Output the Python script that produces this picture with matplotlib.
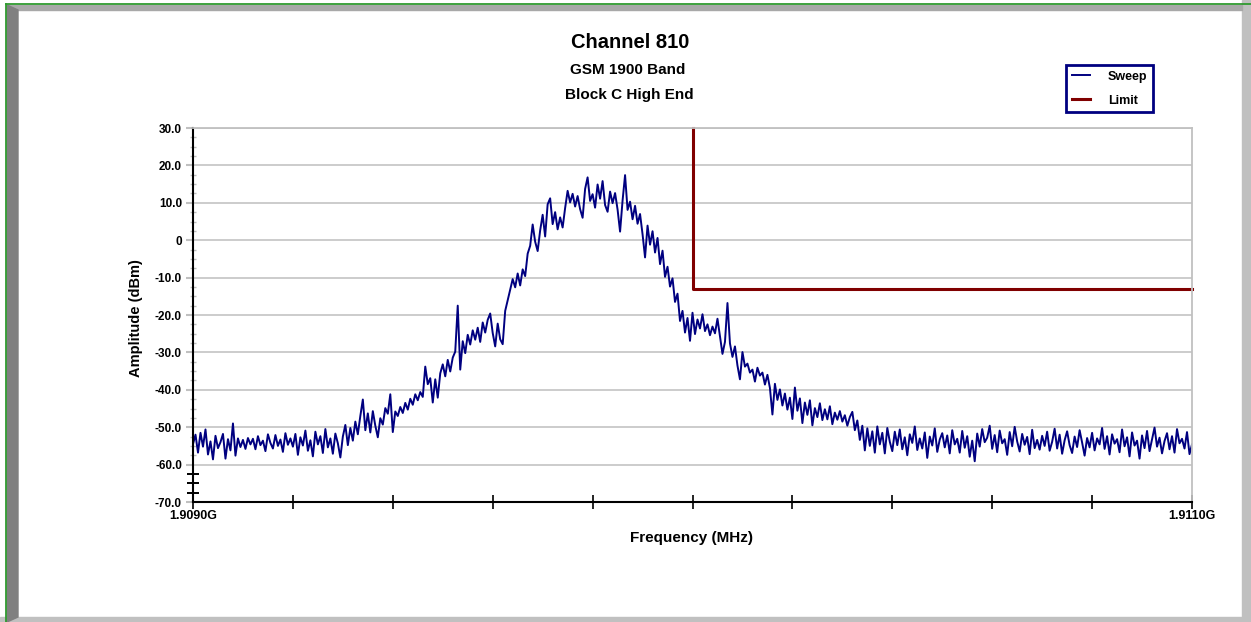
import numpy as np
import matplotlib
matplotlib.use("Agg")
import matplotlib.pyplot as plt
from matplotlib.patches import Rectangle, Polygon

plt.rcParams["font.family"] = ["Liberation Sans", "DejaVu Sans"]
plt.rcParams["font.weight"] = "bold"

# sweep: 401 points from 1909.0 to 1911.0 MHz, amplitude in dBm
floor_left = [
    -54.5, -52.0, -56.8, -51.5, -55.2, -50.6, -57.3, -53.8, -58.6, -52.3,
    -55.6, -54.0, -51.8, -58.4, -53.2, -56.2, -49.0, -57.6, -53.0, -55.3,
    -53.4, -55.8, -52.9, -54.6, -53.1, -55.9, -52.4, -54.8, -53.6, -56.4,
    -51.9, -54.2, -55.7, -52.1, -55.0, -53.3, -56.6, -51.6, -54.7, -53.0,
    -55.2, -51.8, -57.4, -52.7, -54.9, -50.9, -56.3, -53.5, -57.8, -51.2,
    -54.6, -52.4, -56.9, -50.5, -55.4, -53.0, -57.1, -51.7, -54.3, -58.1,
]
skirt_left = [
    -52.5, -49.4, -54.8, -50.2, -53.6, -48.5, -51.9, -47.0, -42.6, -50.8,
    -46.3, -51.4, -45.7, -49.6, -52.7, -47.6, -49.3, -44.9, -46.4, -41.2,
    -51.3, -45.8, -47.0, -44.6, -46.2, -43.5, -45.3, -42.4, -44.0, -41.2,
    -42.8, -40.6, -41.9, -33.8, -38.5, -36.9, -43.4, -37.2, -42.1, -35.6,
    -33.2, -36.4, -32.0, -35.1, -31.4, -29.8, -17.5, -34.6, -27.0, -30.2,
    -25.3, -27.9, -24.1, -26.6, -23.4, -27.2, -22.0, -24.7, -21.3, -19.6,
    -24.8, -28.4, -22.3, -26.5, -27.8, -18.9, -16.1, -13.2, -10.4, -12.6,
    -8.9, -12.1, -7.8, -9.6, -3.6, -1.5, 4.2, -0.4, -2.9, 2.6,
]
main_lobe = [
    6.8, 1.0, 9.6, 11.2, 4.3, 7.5, 2.9, 6.1, 3.4, 8.6,
    13.2, 10.1, 12.4, 9.0, 11.8, 8.3, 6.0, 13.7, 16.8, 10.5,
    12.3, 8.7, 14.9, 11.1, 15.8, 9.4, 7.6, 13.0, 9.9, 12.6,
    8.2, 2.3, 10.6, 17.4, 8.1, 10.3, 5.6, 9.2, 4.4, 7.0,
    1.6, -4.6, 3.9, -1.2, 2.4, -3.3, 0.6, -6.4, -2.8, -9.8,
    -7.1, -12.4, -10.2, -16.5, -14.3, -21.6, -18.9, -24.7, -20.8, -26.9,
]
skirt_right = [
    -19.4, -25.1, -21.2, -23.6, -19.8, -24.3, -22.5, -25.4, -23.1, -24.9,
    -21.0, -25.8, -30.4, -27.2, -16.8, -27.6, -31.2, -28.4, -33.5, -37.2,
    -29.9, -33.8, -33.0, -35.4, -34.6, -37.8, -34.1, -36.2, -35.4, -38.6,
    -36.0, -39.5, -46.6, -38.4, -42.7, -39.9, -44.2, -41.0, -45.3, -42.1,
    -47.8, -39.4, -45.6, -42.3, -48.9, -43.4, -46.7, -42.8, -49.5, -44.9,
    -47.3, -43.6, -48.1, -45.2, -47.9, -44.4, -49.2, -46.1, -48.0, -45.7,
    -48.5, -46.8, -49.6, -47.3, -45.9, -50.8, -48.2, -53.4, -49.6, -56.2,
    -50.3, -55.0, -51.1, -56.8, -49.8, -54.6, -51.5, -57.0, -50.2, -53.9,
]
floor_right = [
    -56.4, -51.2, -54.8, -50.6, -55.9, -52.7, -57.5, -51.9, -54.2, -49.8,
    -56.1, -53.0, -55.7, -51.4, -58.2, -52.5, -54.9, -50.3, -56.6, -53.3,
    -51.6, -55.4, -52.2, -57.0, -50.8, -54.6, -53.1, -56.8, -51.0, -55.5,
    -52.4, -57.9, -53.6, -59.1, -51.7, -55.2, -50.5, -54.0, -52.8, -49.6,
    -55.8, -52.1, -56.7, -50.9, -54.3, -53.2, -57.4, -51.3, -55.1, -49.9,
    -53.8, -56.5, -51.8, -54.7, -52.6, -57.2, -50.7, -55.6, -53.4, -56.0,
    -52.3, -55.0, -51.2, -56.3, -53.9, -50.4, -55.7, -52.0, -57.1, -53.5,
    -51.1, -54.8, -56.9, -52.5, -55.3, -50.8, -54.1, -57.6, -52.9, -55.4,
    -51.5, -56.2, -53.0, -54.6, -50.2, -55.8, -52.4, -57.3, -51.9, -54.4,
    -53.2, -56.7, -50.6, -55.1, -52.7, -57.8, -51.4, -54.9, -53.6, -58.4,
    -52.2, -55.6, -51.0, -56.4, -53.3, -50.1, -55.2, -52.8, -57.0, -53.7,
    -51.6, -55.9, -52.4, -56.8, -50.5, -54.3, -53.1, -55.7, -51.3, -57.2,
    -54.6,
]
sweep_level = floor_left + skirt_left + main_lobe + skirt_right + floor_right
sweep_freq = np.linspace(1909.0, 1911.0, len(sweep_level))

limit_freq = [1910.0, 1910.0, 1911.0]
limit_level = [30.0, -13.0, -13.0]

y_ticks = [-70, -60, -50, -40, -30, -20, -10, 0, 10, 20, 30]
y_labels = ["-70.0", "-60.0", "-50.0", "-40.0", "-30.0", "-20.0",
            "-10.0", "0", "10.0", "20.0", "30.0"]

W, H = 1251, 622
fig = plt.figure(figsize=(W / 100, H / 100), dpi=100)

# window frame
bg = fig.add_axes([0, 0, 1, 1], zorder=0)
bg.set_xlim(0, W)
bg.set_ylim(H, 0)
bg.axis("off")
bg.add_patch(Rectangle((1242, 0), 9, H, color="#c0c0c0"))
bg.add_patch(Rectangle((0, 617), W, 5, color="#c0c0c0"))
bg.add_patch(Polygon([(7, 5), (1242, 5), (1242, 10), (18, 10)], color="#a8a8a8"))
bg.add_patch(Polygon([(7, 5), (18, 10), (18, 617), (7, 622)], color="#808080"))
bg.plot([6, 6], [4, H], color="#2f9a2f", lw=1.3)
bg.plot([6, W], [4, 4], color="#2f9a2f", lw=1.3)

ax = fig.add_axes([193 / W, 1 - 502 / H, (1192 - 193) / W, (502 - 128) / H], zorder=1)
sweep, = ax.plot(sweep_freq, sweep_level, color="#000080", lw=1.4, label="Sweep")
limit, = ax.plot(limit_freq, limit_level, color="#800000", lw=2.2,
                 label="Limit", clip_on=False, solid_capstyle="projecting")

ax.set_xlim(1909.0, 1911.0)
ax.set_ylim(-70, 30)

ax.set_yticks(y_ticks)
ax.set_yticklabels(y_labels)
minor_locs = np.arange(-67.5, 30, 2.5)
ax.set_yticks(minor_locs[minor_locs % 10 != 0], minor=True)
ax.tick_params(axis="y", which="major", direction="out", length=5, width=1.5,
               color="#c0c0c0", pad=3, labelsize=8.5)
ax.tick_params(axis="y", which="minor", direction="inout", length=5, width=1,
               color="#bdbdbd")
# below -60 the minor ticks are black and longer
for loc, tick in zip(ax.yaxis.get_minorticklocs(), ax.yaxis.get_minor_ticks()):
    if loc < -60:
        tick.tick1line.set_markeredgecolor("black")
        tick.tick1line.set_markersize(9)
        tick.tick1line.set_markeredgewidth(1.4)

x_ticks = np.linspace(1909.0, 1911.0, 11)
ax.set_xticks(x_ticks)
ax.set_xticklabels(["1.9090G"] + [""] * 9 + ["1.9110G"])
ax.tick_params(axis="x", direction="inout", length=10, width=1.2, color="black",
               pad=1, labelsize=9)

ax.yaxis.grid(True, color="#c8c8c8", lw=1.3)
ax.set_axisbelow(True)
for side in ("left", "bottom"):
    ax.spines[side].set_color("black")
    ax.spines[side].set_linewidth(1.5)
for side in ("top", "right"):
    ax.spines[side].set_color("#c0c0c0")
    ax.spines[side].set_linewidth(1.3)

fig.text(630 / W, 1 - 43 / H, "Channel 810", ha="center", va="center", fontsize=14.5)
fig.text(628 / W, 1 - 70 / H, "GSM 1900 Band", ha="center", va="center", fontsize=11)
fig.text(629 / W, 1 - 95 / H, "Block C High End", ha="center", va="center", fontsize=11)
fig.text(692 / W, 1 - 538 / H, "Frequency (MHz)", ha="center", va="center", fontsize=11)
fig.text(136 / W, 1 - 318 / H, "Amplitude (dBm)", ha="center", va="center",
         rotation=90, fontsize=10.5)

leg = ax.legend(handles=[sweep, limit], loc="upper left",
                bbox_to_anchor=(1066 / W, 1 - 65 / H), bbox_transform=fig.transFigure,
                borderaxespad=0, frameon=True, fancybox=False, framealpha=1,
                edgecolor="#000080", borderpad=0.45, handlelength=1.5,
                handletextpad=1.4, labelspacing=0.95,
                prop={"weight": "bold", "size": 9})
leg.get_frame().set_linewidth(2)
leg.set_zorder(5)

fig.savefig("out.png", dpi=100)
